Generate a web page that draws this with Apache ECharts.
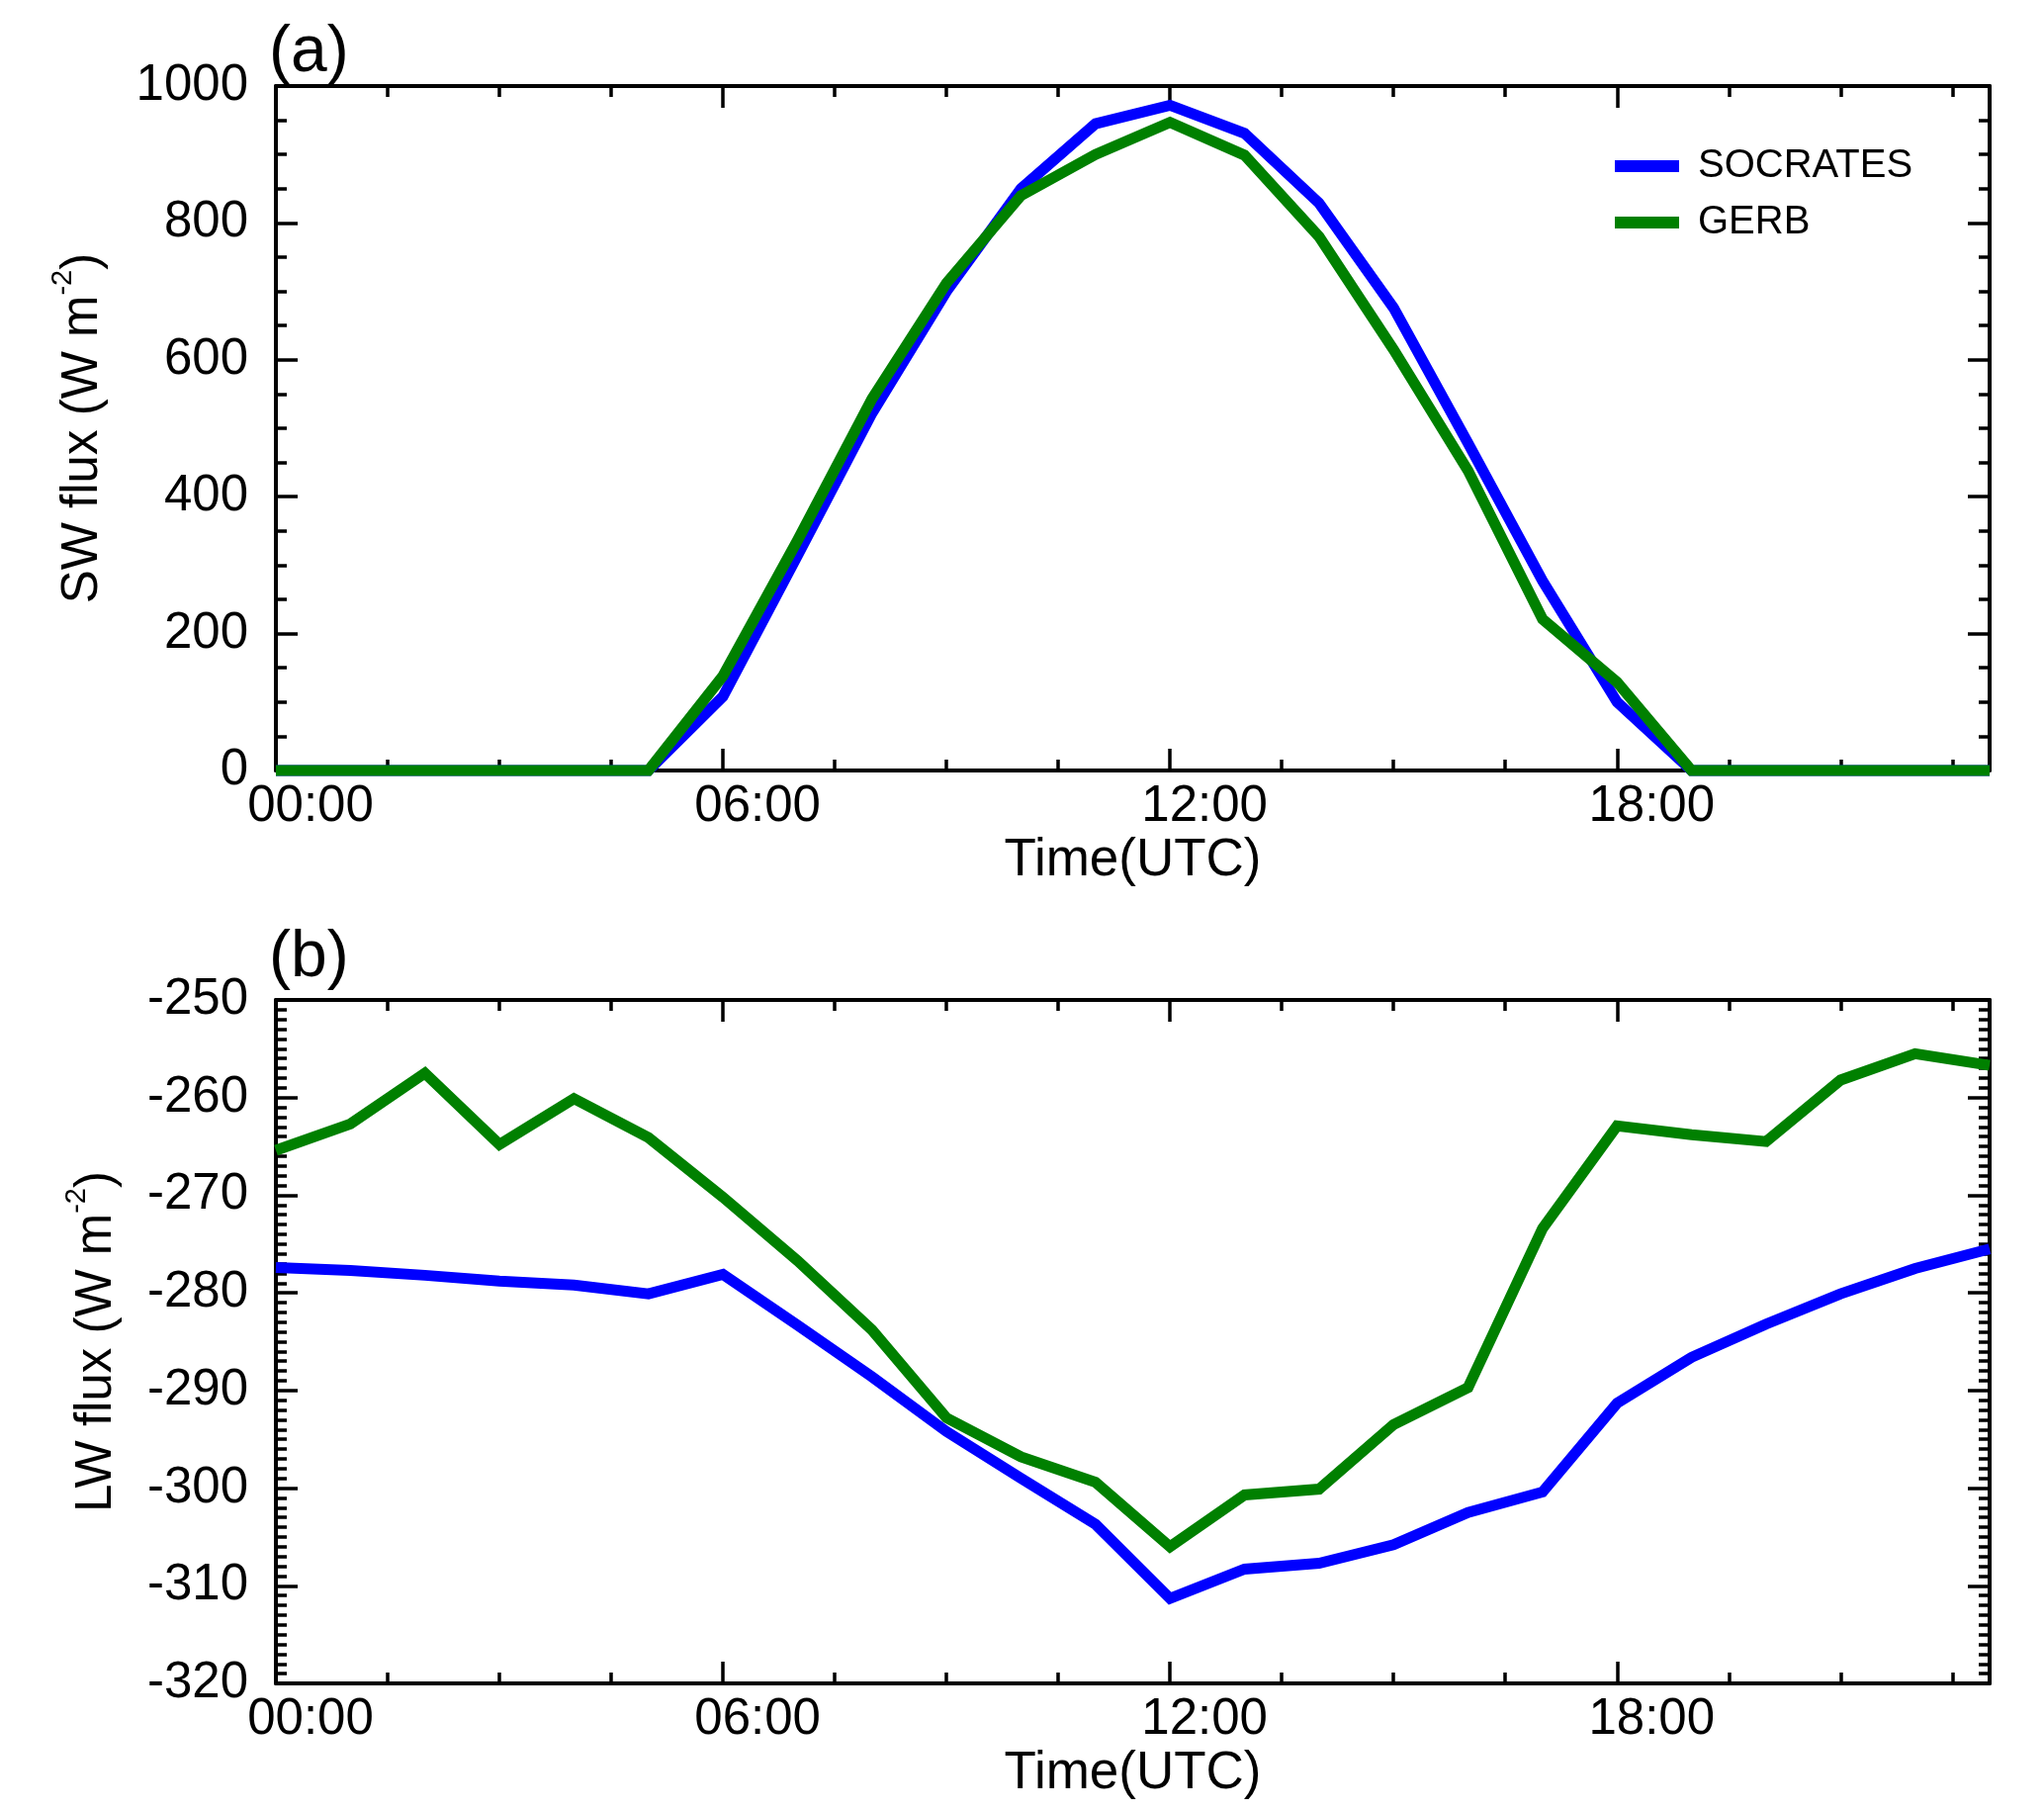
<!DOCTYPE html>
<html>
<head>
<meta charset="utf-8">
<script src="https://cdn.jsdelivr.net/npm/echarts@6/dist/echarts.min.js"></script>
<style>
html,body{margin:0;padding:0;background:#ffffff;}
#c{width:2067px;height:1831px;}
</style>
</head>
<body>
<div id="c"></div>
<script>
// ---- data ----
const hours = [0,1,2,3,4,5,6,7,8,9,10,11,12,13,14,15,16,17,18,19,20,21,22,23];
const swSocrates = [0,0,0,0,0,0,108,314,522,700,850,945,972,931,829,676,478,277,100,0,0,0,0,0];
const swGerb     = [0,0,0,0,0,0,138,336,543,712,840,900,947,899,780,615,438,221,129,0,0,0,0,0];
const lwSocrates = [-277.4,-277.7,-278.2,-278.8,-279.2,-280.1,-278.1,-283.3,-288.6,-294.2,-299.0,-303.7,-311.3,-308.3,-307.7,-305.8,-302.5,-300.4,-291.3,-286.6,-283.2,-280.1,-277.5,-275.5];
const lwGerb     = [-265.4,-262.7,-257.5,-264.8,-260.1,-264.1,-270.2,-276.7,-283.8,-292.8,-296.8,-299.4,-306.0,-300.7,-300.1,-293.5,-289.7,-273.4,-262.9,-263.8,-264.5,-258.2,-255.5,-256.7];
const xTickLabels = ['00:00','06:00','12:00','18:00'];
const seriesNames = ['SOCRATES','GERB'];
const seriesColors = ['#0000ff','#008000'];
const panelLabels = ['(a)','(b)'];
const xTitle = 'Time(UTC)';
const yTitles = ['{a|SW flux (W m}{s|-2}{a|)}','{a|LW flux (W m}{s|-2}{a|)}'];

// ---- style ----
const FONT = '"Liberation Sans", Arial, Helvetica, sans-serif';
const BLACK = '#000000';
const grids = [
  {left:279, top:87, width:1733, height:692},
  {left:279, top:1011, width:1733, height:691}
];
const yRanges = [
  {min:0, max:1000, interval:200, minorSplit:4, nameGap:160},
  {min:-320, max:-250, interval:10, minorSplit:10, nameGap:146}
];

function pairs(xs, ys){ return xs.map((x,i)=>[x, ys[i]]); }

const lineAx = {show:true, onZero:false, lineStyle:{color:BLACK, width:4}};
const noLine = {show:false, onZero:false};
const MAJOR = 22, MINOR = 11, TW = 3.5;

function makeXAxes(gi){
  const base = {gridIndex:gi, type:'value', min:0, max:23, splitLine:{show:false}, minorTick:{show:false}};
  const majorTick = {show:true, inside:true, length:MAJOR, lineStyle:{color:BLACK, width:TW}};
  const minorTickS = {show:true, inside:true, length:MINOR, lineStyle:{color:BLACK, width:TW}};
  return [
    Object.assign({}, base, {
      position:'bottom', interval:6, axisLine:lineAx, axisTick:majorTick,
      axisLabel:{show:true, showMaxLabel:false, showMinLabel:true,
        formatter:(v)=> xTickLabels[Math.round(v/6)] || '',
        fontSize:51, color:BLACK, fontFamily:FONT, margin:11, padding:[0,0,0,70]},
      name:xTitle, nameLocation:'middle', nameGap:65,
      nameTextStyle:{fontSize:53, color:BLACK, fontFamily:FONT}
    }),
    Object.assign({}, base, {position:'bottom', interval:1.5, axisLine:noLine, axisTick:minorTickS, axisLabel:{show:false}}),
    Object.assign({}, base, {position:'top', interval:6, axisLine:lineAx, axisTick:majorTick, axisLabel:{show:false}}),
    Object.assign({}, base, {position:'top', interval:1.5, axisLine:noLine, axisTick:minorTickS, axisLabel:{show:false}})
  ];
}

function makeYAxes(gi){
  const r = yRanges[gi];
  const base = {gridIndex:gi, type:'value', min:r.min, max:r.max, interval:r.interval, splitLine:{show:false},
    axisLine:lineAx,
    axisTick:{show:true, inside:true, length:MAJOR, lineStyle:{color:BLACK, width:TW}},
    minorTick:{show:true, splitNumber:r.minorSplit, length:MINOR, lineStyle:{color:BLACK, width:TW}}};
  return [
    Object.assign({}, base, {
      position:'left',
      axisLabel:{show:true, fontSize:51, color:BLACK, fontFamily:FONT, margin:28,
        formatter:(v)=> String(v)},
      name:yTitles[gi], nameLocation:'middle', nameGap:r.nameGap, nameRotate:90,
      nameTextStyle:{color:BLACK, fontFamily:FONT, rich:{
        a:{fontSize:51, lineHeight:70, color:BLACK, fontFamily:FONT},
        s:{fontSize:29, lineHeight:29, verticalAlign:'top', color:BLACK, fontFamily:FONT}
      }}
    }),
    Object.assign({}, base, {position:'right', axisLabel:{show:false}})
  ];
}

function makeSeries(gi, name, ys, ci){
  return {
    type:'line', name:name, xAxisIndex:gi*4, yAxisIndex:gi*2,
    data:pairs(hours, ys), showSymbol:false, symbol:'none', clip:false,
    color:seriesColors[ci],
    lineStyle:{color:seriesColors[ci], width:11, join:'miter', cap:'butt'},
    itemStyle:{color:seriesColors[ci]},
    emphasis:{disabled:true}, z:3
  };
}

const option = {
  animation:false,
  backgroundColor:'#ffffff',
  grid:grids,
  xAxis:[].concat(makeXAxes(0), makeXAxes(1)),
  yAxis:[].concat(makeYAxes(0), makeYAxes(1)),
  legend:{
    data:seriesNames, orient:'vertical', left:1633, top:146, padding:0,
    itemWidth:65, itemHeight:12, itemGap:13, icon:'rect',
    textStyle:{fontSize:40, color:BLACK, fontFamily:FONT, lineHeight:44, padding:[0,0,0,14]},
    selectedMode:false
  },
  graphic:[
    {type:'text', x:272, y:54, style:{text:panelLabels[0], fontSize:66, fontFamily:FONT, fill:BLACK, align:'left', verticalAlign:'middle'}},
    {type:'text', x:272, y:969, style:{text:panelLabels[1], fontSize:66, fontFamily:FONT, fill:BLACK, align:'left', verticalAlign:'middle'}}
  ],
  series:[
    makeSeries(0, seriesNames[0], swSocrates, 0),
    makeSeries(0, seriesNames[1], swGerb, 1),
    makeSeries(1, seriesNames[0], lwSocrates, 0),
    makeSeries(1, seriesNames[1], lwGerb, 1)
  ]
};

const chart = echarts.init(document.getElementById('c'), null, {renderer:'canvas'});
chart.setOption(option);
</script>
</body>
</html>
